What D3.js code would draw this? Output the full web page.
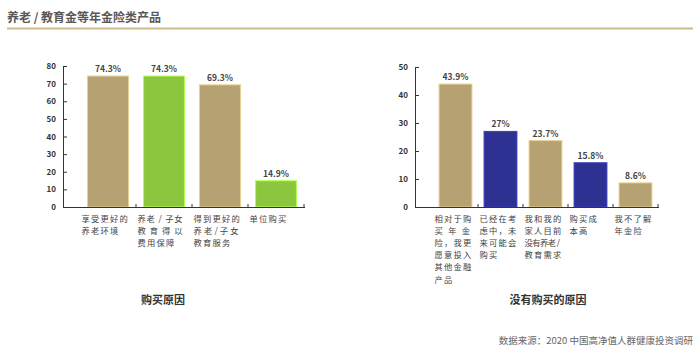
<!DOCTYPE html>
<html><head><meta charset="utf-8">
<script src="https://cdn.jsdelivr.net/npm/d3@7"></script>
<style>
body{margin:0;background:#fff;}
text{font-family:"Noto Sans CJK SC","Liberation Sans",sans-serif;}
</style></head>
<body><svg id="c" width="700" height="352"></svg>
<script>
const mainTitle = "养老 / 教育金等年金险类产品";
const sourceText = "数据来源：2020 中国高净值人群健康投资调研";

const leftTitle = "购买原因";
const leftCategories = [
  ["享受更好的","养老环境"],
  ["养老 / 子女","教 育 得 以","费用保障"],
  ["得到更好的","养 老 / 子 女","教育服务"],
  ["单位购买"]
];
const leftValues = [74.3, 74.3, 69.3, 14.9];
const leftLabels = ["74.3%","74.3%","69.3%","14.9%"];
const leftTicks = [0,10,20,30,40,50,60,70,80];

const rightTitle = "没有购买的原因";
const rightCategories = [
  ["相对于购","买 年 金","险，我更","愿意投入","其他金融","产品"],
  ["已经在考","虑中，未","来可能会","购买"],
  ["我和我的","家人目前","没有养老 /","教育需求"],
  ["购买成","本高"],
  ["我不了解","年金险"]
];
const rightValues = [43.9, 27, 23.7, 15.8, 8.6];
const rightLabels = ["43.9%","27%","23.7%","15.8%","8.6%"];
const rightTicks = [0,10,20,30,40,50];

const svg = d3.select("#c");
const TAN = "#b5a171", GREEN = "#8cc63f", NAVY = "#2e3192";

svg.append("text").attr("x",7).attr("y",22).attr("font-size",12).attr("font-weight","bold")
  .attr("fill","#585858").text(mainTitle);
svg.append("line").attr("x1",7).attr("x2",693).attr("y1",28.5).attr("y2",28.5)
  .attr("stroke","#cdb88c").attr("stroke-width",2);
svg.append("text").attr("x",693).attr("y",344).attr("text-anchor","end").attr("font-size",9.5)
  .attr("fill","#666").text(sourceText);

function drawChart(o){
  const g = svg.append("g");
  const x = d3.scaleBand().domain(d3.range(o.values.length)).range(o.xRange).paddingInner(0.27).paddingOuter(0.135);
  const y = d3.scaleLinear().domain([0, d3.max(o.ticks)]).range([207, o.yTop]);
  const half = x.step()*x.paddingInner()/2;
  // y axis
  const ya = g.append("g").attr("transform",`translate(${o.axisX},0)`)
    .call(d3.axisLeft(y).tickValues(o.ticks).tickSizeInner(-4).tickSizeOuter(0).tickPadding(7));
  ya.select(".domain").attr("stroke","#333");
  ya.selectAll(".tick line").attr("stroke","#333");
  ya.selectAll(".tick text").attr("font-family","Liberation Sans, Arial, sans-serif")
    .attr("font-size",8).attr("font-weight","bold").attr("fill","#333");
  // bars
  g.selectAll("rect").data(o.values).join("rect")
    .attr("x",(d,i)=>x(i)).attr("width",x.bandwidth())
    .attr("y",d=>y(d)).attr("height",d=>y(0)-y(d))
    .attr("fill",(d,i)=> i%2 ? o.alt : TAN)
    .attr("stroke",(d,i)=> d3.color(i%2 ? o.alt : TAN).brighter(0.7))
    .attr("stroke-width",1);
  // x axis line
  g.append("line").attr("x1",o.axisX).attr("x2",o.xRange[1]+1).attr("y1",y(0)+0.5).attr("y2",y(0)+0.5)
    .attr("stroke","#333").attr("stroke-width",1.2);
  // boundary ticks
  const bounds = d3.range(1,o.values.length+1).map(i=> i<o.values.length ? x(i)-half : o.xRange[1]);
  g.selectAll("line.bt").data(bounds).join("line").attr("class","bt")
    .attr("x1",d=>d).attr("x2",d=>d).attr("y1",y(0)-3).attr("y2",y(0)+0.5).attr("stroke","#333");
  // value labels
  g.selectAll("text.v").data(o.values).join("text").attr("class","v")
    .attr("x",(d,i)=>x(i)+x.bandwidth()/2).attr("y",d=>y(d)-4)
    .attr("text-anchor","middle").attr("font-family","Liberation Sans, Arial, sans-serif")
    .attr("font-size",8.5).attr("font-weight","bold").attr("fill","#444")
    .text((d,i)=>o.labels[i]);
  // category labels (one text per category, one tspan per line)
  const fs = 8.3, adv = 9.5, lh = 12.1;
  o.categories.forEach((lines,i)=>{
    const x0 = x(i) - half + 1.5;
    const t = g.append("text").attr("x",x0).attr("y",222).attr("font-size",fs)
      .attr("letter-spacing",(adv-fs)+"px").attr("fill","#444");
    lines.forEach((ln,j)=>{
      const ts = t.append("tspan").attr("x",x0).attr("dy", j===0 ? 0 : lh).text(ln);
      if (ln.indexOf(" ")>=0) ts.attr("textLength",o.colChars*adv - (adv-fs)).attr("lengthAdjust","spacing");
    });
  });
  // section title
  g.append("text").attr("x",o.titleX).attr("y",304).attr("text-anchor","middle")
    .attr("font-size",11).attr("font-weight","bold").attr("fill","#333").text(o.title);
}

drawChart({values:leftValues, labels:leftLabels, categories:leftCategories, ticks:leftTicks,
  xRange:[80,304], axisX:63, yTop:66, alt:GREEN, colChars:5, title:leftTitle, titleX:163});
drawChart({values:rightValues, labels:rightLabels, categories:rightCategories, ticks:rightTicks,
  xRange:[433,658], axisX:415, yTop:67, alt:NAVY, colChars:4, title:rightTitle, titleX:548});
</script></body></html>
